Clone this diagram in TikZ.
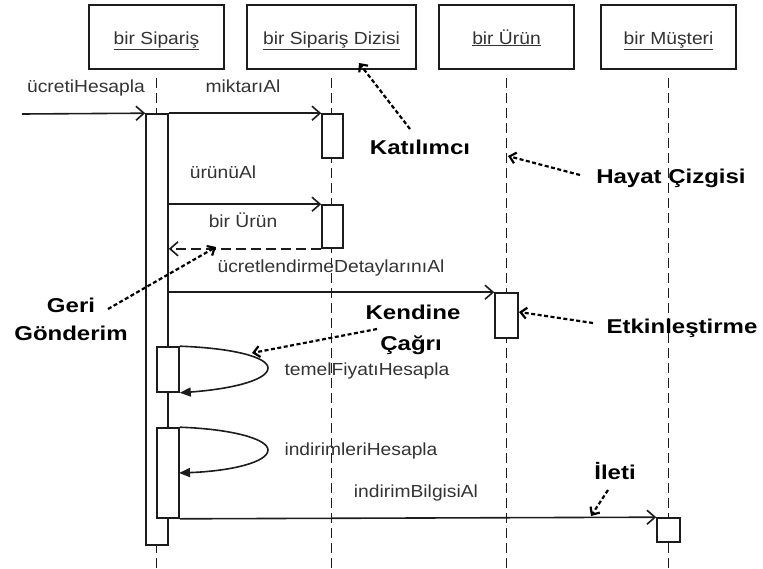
\documentclass[tikz,border=0pt]{standalone}
\usepackage{fontspec}
\setmainfont{Liberation Sans}
\newfontfamily\lblfont{Liberation Sans}[FakeStretch=1.1]
\newfontfamily\notefont{Liberation Sans}[FakeStretch=1.2]
\usetikzlibrary{arrows.meta}
\definecolor{ink}{HTML}{1C1C1C}
\definecolor{txt}{HTML}{333333}
\tikzset{
  objbox/.style={draw=ink, line width=1.6pt, fill=white, minimum width=135pt,
    minimum height=64pt, inner sep=0pt, text=txt, text height=14pt, text depth=0pt,
    font=\lblfont\fontsize{17.5}{20}\selectfont},
  lifeline/.style={draw=ink, line width=1.8pt, dash pattern=on 10pt off 5pt},
  actbar/.style={draw=ink, line width=1.6pt, fill=white, inner sep=0pt},
  msg/.style={draw=ink, line width=1.6pt, -{Straight Barb[length=8pt,width=14pt]}},
  retmsg/.style={msg, dash pattern=on 10pt off 5pt},
  selfmsg/.style={draw=ink, line width=1.6pt, -{Triangle[length=11pt,width=9pt]}},
  lbl/.style={anchor=base, inner sep=0pt, text=txt,
    font=\lblfont\fontsize{17.5}{20}\selectfont},
  note/.style={anchor=base, inner sep=0pt, text=black,
    font=\notefont\bfseries\fontsize{20}{24}\selectfont},
  pointer/.style={draw=black, line width=2.2pt, dash pattern=on 4pt off 2.5pt,
    -{Straight Barb[length=6pt,width=11pt]}}
}
\begin{document}
\begin{tikzpicture}[x=1pt,y=-1pt]
\useasboundingbox (0,0) rectangle (763,568);
\coordinate (bot) at (0,568);

% participants
\node[objbox] (h1) at (156.5,37) {\underline{bir Sipariş}};
\node[objbox, minimum width=169pt] (h2) at (331.5,37) {\underline{bir Sipariş Dizisi}};
\node[objbox] (h3) at (506.5,37) {\underline{bir Ürün}};
\node[objbox] (h4) at (668.5,37) {\underline{bir Müşteri}};

% lifelines
\foreach \h in {h1,h2,h3,h4}
  \draw[lifeline] ([yshift=-8pt]\h.south) -- (\h.south |- bot);

% activation bars
\node[actbar, minimum width=22pt, minimum height=431pt] (a1) at (157,329.5) {};
\node[actbar, minimum width=21pt, minimum height=44pt] (a2) at (332.5,136) {};
\node[actbar, minimum width=21pt, minimum height=43pt] (a3) at (332.5,226.5) {};
\node[actbar, minimum width=23pt, minimum height=45pt] (a4) at (506.5,315.5) {};
\node[actbar, minimum width=22pt, minimum height=45pt] (s1) at (168,369.5) {};
\node[actbar, minimum width=22pt, minimum height=90pt] (s2) at (168,473) {};
\node[actbar, minimum width=23pt, minimum height=24pt] (a5) at (668.5,530) {};

% messages
\coordinate (in) at (22,114);
\draw[msg] (in) -- (a1.north west);
\draw[msg] (a1.north east) -- (a2.north west);
\draw[msg] (a1.east |- a3.north) -- (a3.north west);
\draw[retmsg] (a3.south west) -- (a1.east |- a3.south);
\draw[msg] (a1.east |- a4.north) -- (a4.north west);
\draw[selfmsg] (s1.north east) .. controls (232,348) and (268,357) .. (268,368)
  .. controls (268,380) and (232,389) .. (s1.south east);
\draw[selfmsg] (s2.north east) .. controls (232,429) and (268,439) .. (268,450)
  .. controls (268,462) and (232,471) .. (179,473);
\draw[msg] (s2.south east) -- (a5.north west);

% message labels
\node[lbl] (m1) at (86,92) {ücretiHesapla};
\node[lbl] (m2) at (243,92) {miktarıAl};
\node[lbl] (m3) at (223,178) {ürünüAl};
\node[lbl] (m4) at (243,227) {bir Ürün};
\node[lbl] (m5) at (331,272) {ücretlendirmeDetaylarınıAl};
\node[lbl] (m6) at (367,375) {temelFiyatıHesapla};
\node[lbl] (m7) at (361,455) {indirimleriHesapla};
\node[lbl] (m8) at (416,497) {indirimBilgisiAl};

% annotations
\node[note] (n1) at (420,154) {Katılımcı};
\node[note] (n2) at (671,183) {Hayat Çizgisi};
\node[note] (n3) at (682,333) {Etkinleştirme};
\node[note] (n4a) at (71,312) {Geri};
\node[note] (n4b) at (71,340) {Gönderim};
\node[note] (n5a) at (413,319) {Kendine};
\node[note] (n5b) at (411,350) {Çağrı};
\node[note] (n6) at (615,479) {İleti};

\coordinate (t1) at (410,129);  \coordinate (p1) at (359,63);
\coordinate (t2) at (580,175);  \coordinate (p2) at (508,156);
\coordinate (t3) at (593,323);  \coordinate (p3) at (519,312);
\coordinate (t4) at (108,309);  \coordinate (p4) at (216,247);
\coordinate (t5) at (377,329);  \coordinate (p5) at (252,353);
\coordinate (t6) at (608,490);  \coordinate (p6) at (591,516);
\foreach \i in {1,...,6}
  \draw[pointer] (t\i) -- (p\i);
\end{tikzpicture}
\end{document}
